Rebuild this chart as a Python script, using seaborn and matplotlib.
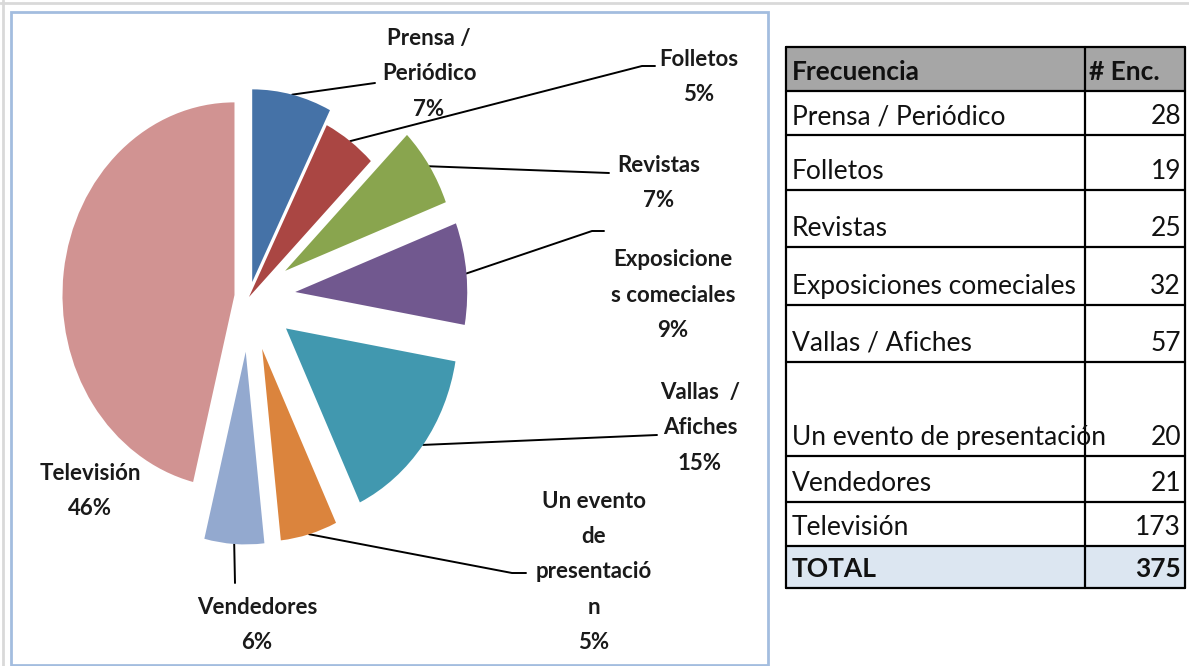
import numpy as np
import matplotlib
matplotlib.use("Agg")
import matplotlib.pyplot as plt
from matplotlib.patches import Rectangle
import seaborn as sns

# datos
categorias = ["Prensa / Periódico", "Folletos", "Revistas", "Exposiciones comeciales",
              "Vallas / Afiches", "Un evento de presentación", "Vendedores", "Televisión"]
encuestas = [28, 19, 25, 32, 57, 20, 21, 173]
etiquetas_pie = ["Prensa /\nPeriódico", "Folletos", "Revistas", "Exposicione\ns comeciales",
                 "Vallas  /\nAfiches", "Un evento\nde\npresentació\nn", "Vendedores", "Televisión"]
colores = ["#4572A7", "#AA4643", "#89A54E", "#71588F", "#4198AF", "#DB843D", "#93A9CF", "#D19392"]
total = sum(encuestas)

sns.set_style("white")
plt.rcParams['font.family'] = ['Lato', 'DejaVu Sans']

W, H = 1189, 666
STRETCH = 1.12  # the screenshot is a bit taller than wide

fig = plt.figure(figsize=(W / 100, H / 100), dpi=100)
bg = fig.add_axes([0, 0, 1, 1], label="bg")
bg.set_xlim(0, W)
bg.set_ylim(H, 0)
bg.axis('off')

# marco
bg.plot([0, W], [2.5, 2.5], color="#d9d9d9", lw=2)
bg.plot([2.5, 2.5], [0, H], color="#d9d9d9", lw=2)
bg.add_patch(Rectangle((11, 12), 757, 653, fill=False, edgecolor="#a3bddf", lw=2))

# pie
pie_ax = fig.add_axes([0, 0, 1, 1], label="pie", facecolor="none")
cx, cy, R = 249, 297, 172
explode = [0.08, 0.0, 0.25, 0.27, 0.27, 0.28, 0.285, 0.085]
wedges, _ = pie_ax.pie(encuestas, colors=colores, startangle=90, counterclock=False,
                       radius=R, center=(cx, (H - cy) / STRETCH),
                       explode=[e * R for e in explode],
                       wedgeprops=dict(linewidth=0))
pie_ax.set_aspect('auto')
pie_ax.set_xlim(0, W)
pie_ax.set_ylim(0, H / STRETCH)
pie_ax.axis('off')

# etiquetas + guias (px)
pos_etiquetas = [(429, 74), (699, 77), (659, 183), (673, 295),
                 (700, 428), (594, 572), (257, 625), (90, 491)]
guias = [[(375, 83)], [(642, 66), (655, 66)], [(609, 173)], [(592, 231), (604, 231)],
         [(657, 435)], [(512, 573), (526, 573)], [(235, 583)], []]

for w, lab, v, (tx, ty), g in zip(wedges, etiquetas_pie, encuestas, pos_etiquetas, guias):
    pct = round(v / total * 100)
    bg.text(tx, ty, f"{lab}\n{pct}%", ha='center', va='center', fontsize=16,
            fontweight='bold', linespacing=1.85, color="#1a1a1a", zorder=5)
    if g:
        th = np.deg2rad((w.theta1 + w.theta2) / 2)
        x0 = w.center[0] + w.r * np.cos(th)
        y0 = H - (w.center[1] + w.r * np.sin(th)) * STRETCH
        xs = [x0] + [p[0] for p in g]
        ys = [y0] + [p[1] for p in g]
        bg.plot(xs, ys, color="black", lw=1.4, zorder=4)

# tabla
filas_y = [47, 91, 135, 190, 247, 305, 362, 456, 502, 546, 588]
x_izq, x_div, x_der = 786, 1085, 1185
bg.add_patch(Rectangle((x_izq, filas_y[0]), x_der - x_izq, filas_y[1] - filas_y[0],
                       facecolor="#a6a6a6", edgecolor="none"))
bg.add_patch(Rectangle((x_izq, filas_y[-2]), x_der - x_izq, filas_y[-1] - filas_y[-2],
                       facecolor="#dce6f1", edgecolor="none"))
for y in filas_y:
    bg.plot([x_izq, x_der], [y, y], color="black", lw=1.6)
for x in [x_izq, x_div, x_der]:
    bg.plot([x, x], [filas_y[0], filas_y[-1]], color="black", lw=1.6)

filas = [("Frecuencia", "# Enc.")] + list(zip(categorias, [str(v) for v in encuestas])) \
    + [("TOTAL", str(total))]
for i, (nombre, valor) in enumerate(filas):
    top, bot = filas_y[i], filas_y[i + 1]
    negrita = i == 0 or i == len(filas) - 1
    t = bg.text(x_izq + 6, bot - 11, nombre, ha='left', va='baseline', fontsize=19,
                fontweight='bold' if negrita else 'normal', color="#111111")
    t.set_clip_path(Rectangle((x_izq, top), x_div - x_izq, bot - top, transform=bg.transData))
    if i == 0:
        t2 = bg.text(x_div + 4, bot - 11, valor, ha='left', va='baseline', fontsize=19,
                     fontweight='bold', color="#111111")
        t2.set_clip_path(Rectangle((x_div, top), x_der - x_div, bot - top, transform=bg.transData))
    else:
        bg.text(x_der - 4, bot - 11, valor, ha='right', va='baseline', fontsize=19,
                fontweight='bold' if negrita else 'normal', color="#111111")

fig.savefig("out.png", dpi=100)
